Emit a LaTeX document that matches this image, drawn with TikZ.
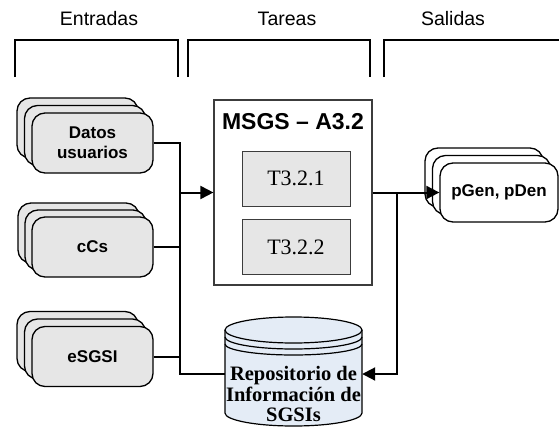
\documentclass[tikz,border=0pt]{standalone}
\usepackage{fontspec}
\setmainfont{Liberation Serif}
\setsansfont{Liberation Sans}
\usetikzlibrary{arrows.meta}

\definecolor{cardgray}{RGB}{230,230,230}
\definecolor{boxgray}{RGB}{230,230,230}
\definecolor{repofill}{RGB}{228,236,246}
\definecolor{edgegray}{RGB}{60,60,60}

\tikzset{
  heading/.style={font=\sffamily\fontsize{19.5}{22}\selectfont, inner sep=0pt},
  bracket/.style={draw=black, line width=2pt},
  card/.style={draw=black, line width=1.3pt, rounded corners=13pt, fill=cardgray,
    minimum width=121pt, minimum height=60pt, inner sep=0pt, align=center,
    font=\sffamily\bfseries\fontsize{17}{20}\selectfont},
  outcard/.style={card, fill=white, minimum width=118pt, minimum height=59pt},
  activity/.style={draw=edgegray, line width=1.2pt, fill=white,
    minimum width=158pt, minimum height=185pt, inner sep=0pt},
  task/.style={draw=edgegray, line width=1pt, fill=boxgray,
    minimum width=108pt, minimum height=55pt, inner sep=0pt,
    font=\rmfamily\fontsize{22}{24}\selectfont},
  conn/.style={draw=black, line width=2pt},
  arr/.style={-{Triangle[length=13pt,width=13pt]}},
  repotext/.style={align=center, inner sep=0pt,
    font=\rmfamily\bfseries\fontsize{20.5}{20.5}\selectfont},
}

\begin{document}
\begin{tikzpicture}[x=1pt, y=-1pt]
\useasboundingbox (0,0) rectangle (559,428);

% column headings and brackets
\node[heading] (hin)  at (99,19)  {Entradas};
\node[heading] (htask) at (287,19) {Tareas};
\node[heading] (hout) at (453,19) {Salidas};
\draw[bracket] (15,77) |- (178,40) -- (178,77);
\draw[bracket] (188,77) |- (370,40) -- (370,77);
\draw[bracket] (384,77) |- (565,40);

% input stacks
\node[card] (du3) at (77.5,128) {};
\node[card] (du2) at (85,135.5) {};
\node[card] (du)  at (92.5,143) {Datos\\usuarios};

\node[card] (cc3) at (78.5,233) {};
\node[card] (cc2) at (85.5,240) {};
\node[card] (cc)  at (92.5,247) {cCs};

\node[card] (es3) at (77.5,341.5) {};
\node[card] (es2) at (85,349) {};
\node[card] (es)  at (92.5,356.5) {eSGSI};

% activity box with its tasks
\node[activity] (msgs) at (293,192.5) {};
\node[font=\sffamily\bfseries\fontsize{23}{25}\selectfont, inner sep=0pt]
  (msgstitle) at (293,122) {MSGS – A3.2};
\node[task] (t1) at (296,178.5) {T3.2.1};
\node[task] (t2) at (296,247) {T3.2.2};

% output stack
\node[outcard] (pg3) at (484,177.5) {};
\node[outcard] (pg2) at (491.5,185) {};
\node[outcard] (pg)  at (499,192.5) {pGen, pDen};

% repository cylinder
\path[fill=repofill, draw=black, line width=1.2pt]
  (225,330) -- (225,413)
  arc[start angle=180, end angle=0, x radius=68.5, y radius=13]
  -- (362,330);
\draw[fill=repofill, line width=1.2pt] (293.5,330) ellipse [x radius=68.5, y radius=13];
\draw[line width=1.2pt] (225,337) arc[start angle=180, end angle=0, x radius=68.5, y radius=12];
\draw[line width=1.2pt] (225,344) arc[start angle=180, end angle=0, x radius=68.5, y radius=11];
\node[minimum width=137pt, minimum height=20pt, inner sep=0pt] (repo) at (293.5,374) {};
\node[repotext] (repolabel) at (293.5,394) {Repositorio de\\Información de\\SGSIs};

% connectors
\coordinate (bus) at (180,374);
\coordinate (split) at (397,192.5);
\draw[conn] (du.east) -| (bus) -- (repo.west);
\draw[conn] (cc.east) -- (cc.east -| bus);
\draw[conn] (es.east) -- (es.east -| bus);
\draw[conn, arr] (msgs.west -| bus) -- (msgs.west);
\draw[conn, arr] (msgs.east) -- (pg.west);
\draw[conn, arr] (split) |- (repo.east);
\end{tikzpicture}
\end{document}
